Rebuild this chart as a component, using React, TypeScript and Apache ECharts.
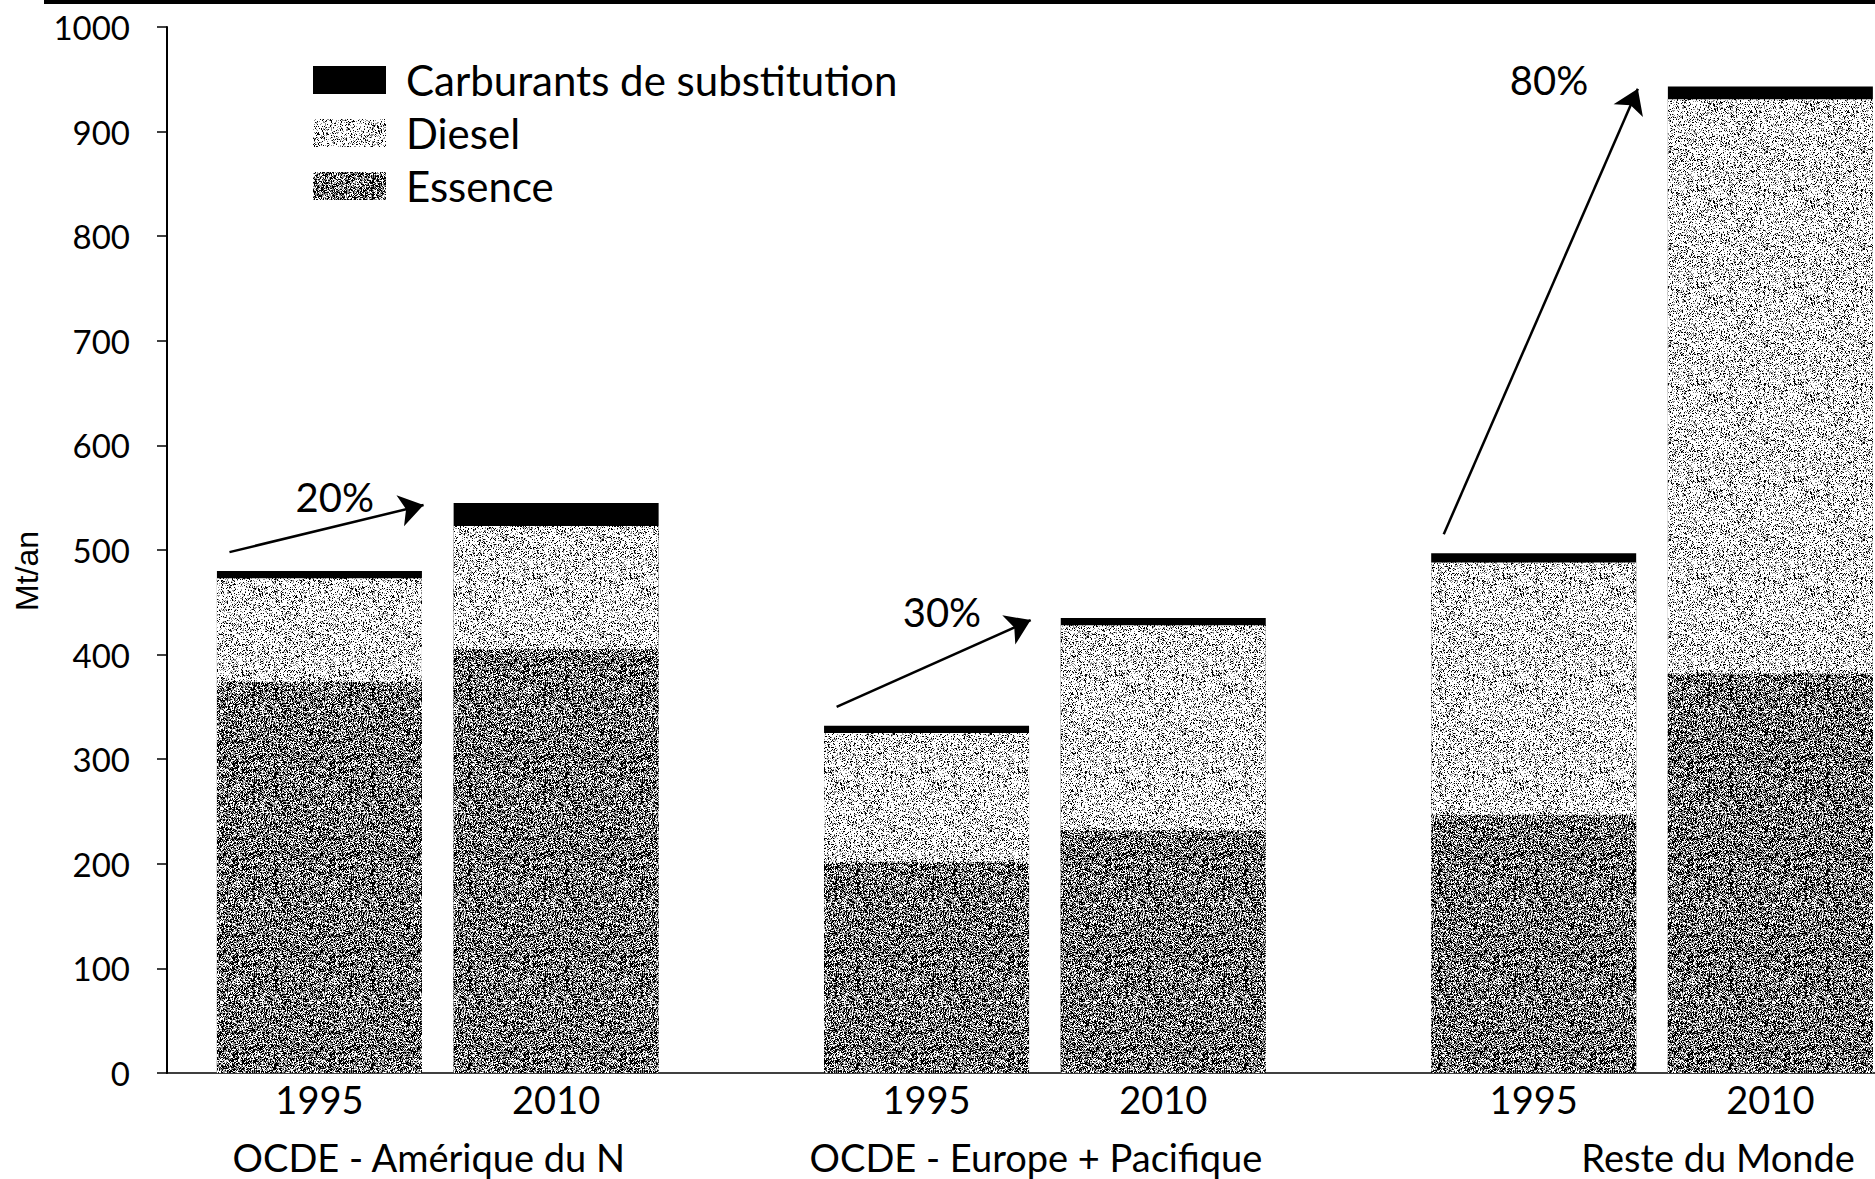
import React, { useEffect, useRef } from 'react';
import * as echarts from 'echarts';

// ---- Data ----
const regions = ['OCDE - Amérique du N', 'OCDE - Europe + Pacifique', 'Reste du Monde'];
const years = ['1995', '2010'];
const seriesNames = ['Carburants de substitution', 'Diesel', 'Essence'];
// bar order: region1 1995, region1 2010, region2 1995, region2 2010, region3 1995, region3 2010 (Mt/an)
const essence = [374, 405, 202, 232, 247, 382];
const diesel = [99, 118, 123, 196, 241, 549];
const carburants = [7, 22, 7, 7, 9, 12];
const growthLabels = ['20%', '30%', '80%'];
const yMin = 0;
const yMax = 1000;
const yInterval = 100;

// ---- Layout (style) constants ----
const yearStep = 1.0;
const groupStep = 2.565;
const firstCenter = 0.644;
const xMax = 7.216;

function hash(x: number, y: number): number {
  let n = Math.imul(x, 374761393) + Math.imul(y, 668265263);
  n = Math.imul(n ^ (n >>> 13), 1274126177);
  n = n ^ (n >>> 16);
  return (n >>> 0) / 4294967296;
}

function makePattern(levels: [number, number][], size = 97) {
  const c = document.createElement('canvas');
  c.width = size;
  c.height = size;
  const ctx = c.getContext('2d')!;
  const img = ctx.createImageData(size, size);
  for (let y = 0; y < size; y++) {
    for (let x = 0; x < size; x++) {
      const h = hash(x + 11, y + 37);
      let g = 255;
      for (const [th, val] of levels) {
        if (h < th) { g = val; break; }
      }
      const i = (y * size + x) * 4;
      img.data[i] = g; img.data[i + 1] = g; img.data[i + 2] = g; img.data[i + 3] = 255;
    }
  }
  ctx.putImageData(img, 0, 0);
  return { image: c, repeat: 'repeat', imageWidth: size, imageHeight: size } as any;
}

export default function App() {
  const ref = useRef<HTMLDivElement>(null);
  useEffect(() => {
    const el = ref.current!;
    const chart = echarts.init(el, null, { renderer: 'svg' });

    const dieselFill = makePattern([[0.13, 0], [0.30, 140]]);
    const essenceFill = makePattern([[0.42, 0], [0.70, 144]]);

    const centers: number[] = [];
    regions.forEach((_, g) => years.forEach((_, y) => centers.push(firstCenter + g * groupStep + y * yearStep)));
    const groupMids = regions.map((_, g) => (centers[2 * g] + centers[2 * g + 1]) / 2);

    const cumEss = essence.slice();
    const cumDiesel = essence.map((v, i) => v + diesel[i]);
    const cumTotal = cumDiesel.map((v, i) => v + carburants[i]);

    const arrows = regions.map((_, g) => {
      const a = 2 * g, b = 2 * g + 1;
      return [
        { coord: [centers[a] - 0.38, cumTotal[a] + 18], symbol: 'none' },
        { coord: [centers[b] - 0.56, cumTotal[b] - 2], symbol: 'arrow' },
      ];
    });
    const pctPoints = regions.map((_, g) => {
      const b = 2 * g + 1;
      return { name: growthLabels[g], coord: [centers[b] - 0.56 - 0.375, cumTotal[b] + 6] };
    });

    const barCommon = {
      type: 'bar',
      barWidth: 205,
      barGap: '-100%',
      xAxisIndex: 0,
      yAxisIndex: 0,
      silent: true,
    };

    const option: any = {
      animation: false,
      backgroundColor: '#fff',
      textStyle: { fontFamily: 'Lato', color: '#000' },
      graphic: [
        { type: 'rect', left: 44, top: 0, shape: { width: 1831, height: 4 }, style: { fill: '#000' } },
      ],
      legend: {
        orient: 'vertical',
        left: 308,
        top: 54,
        itemWidth: 73,
        itemHeight: 28,
        itemGap: 11,
        icon: 'rect',
        selectedMode: false,
        data: seriesNames,
        textStyle: { fontSize: 42, lineHeight: 40, color: '#000', fontFamily: 'Lato', padding: [0, 0, 0, 15] },
      },
      grid: { left: 167, right: 0, top: 27, bottom: 106, containLabel: false },
      xAxis: [
        {
          type: 'value',
          min: 0,
          max: xMax,
          position: 'bottom',
          axisLine: { show: true, onZero: false, lineStyle: { color: '#000', width: 1.5 } },
          axisTick: { show: false },
          splitLine: { show: false },
          axisLabel: {
            customValues: centers,
            margin: 7,
            fontSize: 38,
            color: '#000',
            fontFamily: 'Lato',
            formatter: (v: number) => {
              const i = centers.findIndex((c) => Math.abs(c - v) < 1e-6);
              return i >= 0 ? years[i % 2] : '';
            },
          },
        },
        {
          type: 'value',
          min: 0,
          max: xMax,
          position: 'bottom',
          offset: 58,
          axisLine: { show: false },
          axisTick: { show: false },
          splitLine: { show: false },
          axisLabel: {
            customValues: groupMids,
            margin: 7,
            fontSize: 38,
            color: '#000',
            fontFamily: 'Lato',
            formatter: (v: number) => {
              const i = groupMids.findIndex((c) => Math.abs(c - v) < 1e-6);
              if (i < 0) return '';
              return (i === regions.length - 1 ? '{r|' : '{n|') + regions[i] + '}';
            },
            rich: {
              n: { fontSize: 38, color: '#000', fontFamily: 'Lato', padding: [0, 18, 0, 0] },
              r: { fontSize: 38, color: '#000', fontFamily: 'Lato', padding: [0, 0, 0, 132] },
            },
          },
        },
      ],
      yAxis: {
        type: 'value',
        min: yMin,
        max: yMax,
        interval: yInterval,
        axisLine: { show: true, lineStyle: { color: '#000', width: 2 } },
        axisTick: { show: true, inside: false, length: 10, lineStyle: { color: '#000', width: 1.5 } },
        axisLabel: {
          fontSize: 33,
          color: '#000',
          margin: 37,
          fontFamily: 'Lato',
          formatter: (v: number) => String(v),
        },
        splitLine: { show: false },
        name: 'Mt/an',
        nameLocation: 'middle',
        nameGap: 118,
        nameTextStyle: { fontSize: 32, fontFamily: 'Liberation Sans', color: '#000', padding: [0, 42, 0, 0] },
      },
      series: [
        {
          ...barCommon,
          name: seriesNames[0],
          data: centers.map((c, i) => [c, cumTotal[i]]),
          itemStyle: { color: '#000' },
          markLine: {
            silent: true,
            symbol: ['none', 'arrow'],
            symbolSize: 24,
            label: { show: false },
            lineStyle: { color: '#000', width: 2.5, type: 'solid' },
            emphasis: { disabled: true },
            data: arrows,
          },
          markPoint: {
            silent: true,
            symbol: 'rect',
            symbolSize: 1,
            itemStyle: { color: 'rgba(0,0,0,0)' },
            label: { show: true, position: 'inside', formatter: '{b}', color: '#000', fontSize: 40, fontFamily: 'Lato' },
            data: pctPoints,
          },
        },
        {
          ...barCommon,
          name: seriesNames[1],
          data: centers.map((c, i) => [c, cumDiesel[i]]),
          itemStyle: { color: dieselFill },
        },
        {
          ...barCommon,
          name: seriesNames[2],
          data: centers.map((c, i) => [c, cumEss[i]]),
          itemStyle: { color: essenceFill },
        },
      ],
    };

    chart.setOption(option);
    return () => chart.dispose();
  }, []);

  return (
    <div
      ref={ref}
      style={{ position: 'absolute', left: 0, top: 0, width: 1875, height: 1179, background: '#fff' }}
    />
  );
}
